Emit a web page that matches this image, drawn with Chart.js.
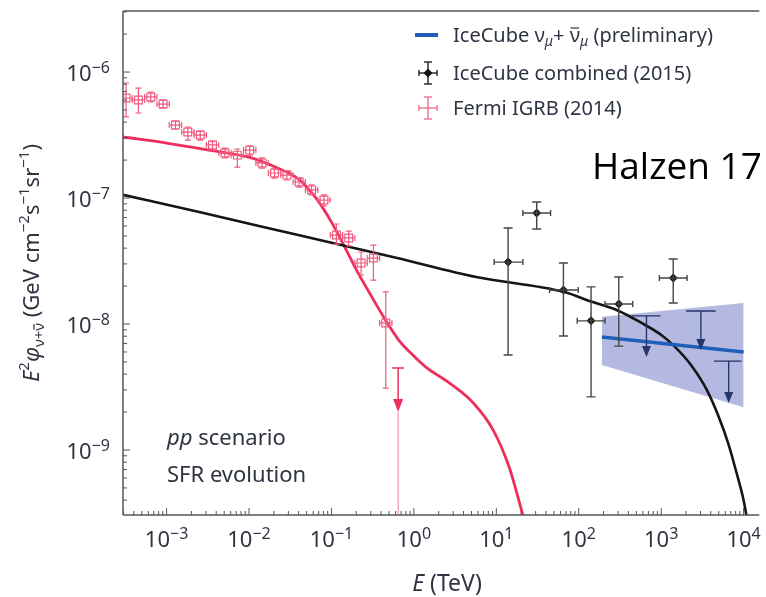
<!DOCTYPE html>
<html>
<head>
<meta charset="utf-8">
<script src="https://cdn.jsdelivr.net/npm/chart.js@4.4.0/dist/chart.umd.min.js"></script>
<style>
html, body { margin: 0; padding: 0; background: #fff; }
#wrap { width: 766px; height: 597px; position: relative; }
</style>
</head>
<body>
<div id="wrap"><canvas id="c" width="766" height="597"></canvas></div>
<script>
// energies in TeV, fluxes E^2 phi in GeV cm^-2 s^-1 sr^-1
const xTickExps = [-3, -2, -1, 0, 1, 2, 3, 4];
const yTickExps = [-9, -8, -7, -6];

// Fermi IGRB (2014)
const fermiE  = [3.22e-4, 4.55e-4, 6.43e-4, 9.08e-4, 1.28e-3, 1.81e-3, 2.56e-3, 3.61e-3, 5.1e-3, 7.21e-3, 1.02e-2, 1.44e-2, 2.04e-2, 2.88e-2, 4.06e-2, 5.74e-2, 8.11e-2, 0.115, 0.162, 0.229, 0.323, 0.456];
const fermiF  = [6.22e-7, 6.0e-7, 6.34e-7, 5.57e-7, 3.79e-7, 3.34e-7, 3.16e-7, 2.64e-7, 2.28e-7, 2.19e-7, 2.4e-7, 1.9e-7, 1.58e-7, 1.52e-7, 1.34e-7, 1.16e-7, 9.64e-8, 5.08e-8, 4.82e-8, 3.05e-8, 3.34e-8, 1.02e-8];
const fermiLo = [4.4e-7, 4.73e-7, 5.78e-7, 5.18e-7, 3.53e-7, 2.88e-7, 2.88e-7, 2.4e-7, 2.08e-7, 1.76e-7, 2.19e-7, 1.73e-7, 1.44e-7, 1.39e-7, 1.22e-7, 1.06e-7, 8.65e-8, 4.31e-8, 4.16e-8, 2.45e-8, 2.23e-8, 3.1e-9];
const fermiHi = [8.18e-7, 7.46e-7, 6.94e-7, 6.0e-7, 4.08e-7, 3.66e-7, 3.4e-7, 2.83e-7, 2.49e-7, 2.45e-7, 2.59e-7, 2.08e-7, 1.7e-7, 1.64e-7, 1.44e-7, 1.27e-7, 1.06e-7, 6.22e-8, 5.47e-8, 3.73e-8, 4.23e-8, 1.8e-8];
const fermiHalfBinDex = 0.075;
const fermiUlE = [0.644];
const fermiUlF = [4.48e-9];
const fermiUlTip = [2.0e-9];

// IceCube combined (2015)
const icE   = [13.9, 30.9, 65.2, 141, 306, 1400];
const icF   = [3.1e-8, 7.6e-8, 1.86e-8, 1.06e-8, 1.44e-8, 2.32e-8];
const icLo  = [5.67e-9, 5.68e-8, 8.04e-9, 2.64e-9, 6.68e-9, 1.47e-8];
const icHi  = [5.78e-8, 9.29e-8, 3.05e-8, 1.97e-8, 2.36e-8, 3.28e-8];
const icElo = [9.42, 21.0, 44.3, 95.9, 208, 951];
const icEhi = [21.0, 45.5, 98.6, 208, 451, 2060];
const icUlE   = [663, 3030, 6590];
const icUlF   = [1.16e-8, 1.27e-8, 5.08e-9];
const icUlTip = [5.47e-9, 6.22e-9, 2.36e-9];
const icUlElo = [438, 2005, 4355];
const icUlEhi = [977, 4590, 9440];

// IceCube nu_mu + anti-nu_mu fit and its band
const blueE  = [191, 1e4];
const blueF  = [7.88e-9, 6.0e-9];
const bandHi = [1.14e-8, 1.47e-8];
const bandLo = [4.73e-9, 2.19e-9];

// pp scenario, SFR evolution: gamma rays (red) and neutrinos (black)
const redE = [2.96e-4, 1e-3, 3.28e-3, 9.9e-3, 2.09e-2, 3.95e-2, 6.33e-2, 9.84e-2, 0.145, 0.207, 0.314, 0.475, 0.681, 1.0, 1.44, 2.71, 5.26, 9.16, 14.3, 21];
const redF = [3.05e-7, 2.73e-7, 2.4e-7, 2.11e-7, 1.76e-7, 1.42e-7, 1.02e-7, 6.56e-8, 4.08e-8, 2.59e-8, 1.61e-8, 1.02e-8, 7.2e-9, 5.57e-9, 4.48e-9, 3.4e-9, 2.36e-9, 1.44e-9, 7.33e-10, 3.05e-10];
const blackE = [2.96e-4, 2.49e-3, 3.95e-2, 0.627, 5.71, 65.2, 145, 306, 578, 1004, 1440, 2300, 3590, 5000, 6590, 8220, 1e4, 1.08e4];
const blackF = [1.06e-7, 7.74e-8, 5.08e-8, 3.34e-8, 2.36e-8, 1.8e-8, 1.5e-8, 1.27e-8, 1.02e-8, 8.18e-9, 6.68e-9, 4.73e-9, 2.99e-9, 1.83e-9, 1.1e-9, 6.57e-10, 4.0e-10, 3.05e-10];

const FF = '"Noto Sans", "DejaVu Sans", sans-serif';
const TXT = '#2e3442';
const FRAME = '#555';
const RED = '#ee2f5c';
const FERMI = '#ef5b80';
const BLUE = '#1f5fb8';
const BAND = 'rgba(125,135,205,0.58)';
const NAVY = '#26356a';
const IC_BAR = '#444';

const xy = (xs, ys) => xs.map((x, i) => ({ x: x, y: ys[i] }));
const font = (size, italic) => (italic ? 'italic ' : '') + size + 'px ' + FF;

function seg(ctx, x0, y0, x1, y1) {
    ctx.beginPath();
    ctx.moveTo(x0, y0);
    ctx.lineTo(x1, y1);
    ctx.stroke();
}

function arrow(ctx, x, yTip, w, h) {
    ctx.beginPath();
    ctx.moveTo(x - w / 2, yTip - h);
    ctx.lineTo(x + w / 2, yTip - h);
    ctx.lineTo(x, yTip);
    ctx.closePath();
    ctx.fill();
}

// draw a row of text pieces with their own font / vertical shift
function runs(ctx, parts, x, y, align) {
    let w = 0;
    parts.forEach(p => { ctx.font = p.f; w += ctx.measureText(p.t).width; });
    let cx = align === 'center' ? x - w / 2 : align === 'right' ? x - w : x;
    parts.forEach(p => {
        ctx.font = p.f;
        const pw = ctx.measureText(p.t).width;
        ctx.fillText(p.t, cx, y + (p.dy || 0));
        if (p.bar) {
            ctx.save();
            ctx.strokeStyle = ctx.fillStyle;
            ctx.lineWidth = 1.2;
            seg(ctx, cx + 1, y + (p.dy || 0) - p.bar, cx + pw - 1, y + (p.dy || 0) - p.bar);
            ctx.restore();
        }
        cx += pw;
    });
    return w;
}

function decadeTicks(scale) {
    const out = [];
    const e0 = Math.floor(Math.log10(scale.min)), e1 = Math.ceil(Math.log10(scale.max));
    for (let e = e0; e <= e1; e++) {
        for (let m = 1; m <= 9; m++) {
            const v = m * Math.pow(10, e);
            if (v >= scale.min && v <= scale.max) out.push({ v: v, major: m === 1 });
        }
    }
    return out;
}

const supTxt = e => (e < 0 ? '\u2212' + (-e) : String(e));

const overlay = {
    id: 'overlay',
    afterDraw(chart) {
        const ctx = chart.ctx;
        const a = chart.chartArea;
        const sx = chart.scales.x, sy = chart.scales.y;
        const X = v => sx.getPixelForValue(v);
        const Y = v => sy.getPixelForValue(v);

        ctx.save();
        ctx.beginPath();
        ctx.rect(a.left, a.top, a.right - a.left, a.bottom - a.top);
        ctx.clip();

        // Fermi error bars
        ctx.strokeStyle = FERMI;
        ctx.lineWidth = 1.2;
        const k = Math.pow(10, fermiHalfBinDex);
        fermiE.forEach((e, i) => {
            const x = X(e), y = Y(fermiF[i]);
            const xl = X(e / k), xr = X(e * k), yl = Y(fermiLo[i]), yh = Y(fermiHi[i]);
            seg(ctx, xl, y, xr, y);
            seg(ctx, x, yl, x, yh);
            seg(ctx, x - 3, yl, x + 3, yl);
            seg(ctx, x - 3, yh, x + 3, yh);
            seg(ctx, xl, y - 3, xl, y + 3);
            seg(ctx, xr, y - 3, xr, y + 3);
        });
        fermiUlE.forEach((e, i) => {
            const x = X(e), y = Y(fermiUlF[i]), yt = Y(fermiUlTip[i]);
            ctx.strokeStyle = '#f6a9bb';
            ctx.lineWidth = 1.5;
            seg(ctx, x, yt, x, a.bottom);
            ctx.strokeStyle = RED;
            ctx.fillStyle = RED;
            seg(ctx, x - 6, y, x + 6, y);
            seg(ctx, x, y, x, yt - 8);
            arrow(ctx, x, yt, 10, 13);
        });

        // IceCube combined error bars
        ctx.lineWidth = 1.4;
        ctx.strokeStyle = IC_BAR;
        icE.forEach((e, i) => {
            const x = X(e), y = Y(icF[i]);
            const xl = X(icElo[i]), xr = X(icEhi[i]), yl = Y(icLo[i]), yh = Y(icHi[i]);
            seg(ctx, x, yl, x, yh);
            seg(ctx, x - 4.5, yl, x + 4.5, yl);
            seg(ctx, x - 4.5, yh, x + 4.5, yh);
            seg(ctx, xl, y, xr, y);
            seg(ctx, xl, y - 3, xl, y + 3);
            seg(ctx, xr, y - 3, xr, y + 3);
        });
        ctx.strokeStyle = NAVY;
        ctx.fillStyle = NAVY;
        icUlE.forEach((e, i) => {
            const x = X(e), y = Y(icUlF[i]), yt = Y(icUlTip[i]);
            seg(ctx, X(icUlElo[i]), y, X(icUlEhi[i]), y);
            seg(ctx, x, y, x, yt - 6);
            arrow(ctx, x, yt, 9, 11);
        });
        ctx.restore();

        // frame and inward ticks
        ctx.save();
        ctx.strokeStyle = FRAME;
        ctx.lineWidth = 1.5;
        seg(ctx, a.left, a.top, a.right, a.top);
        seg(ctx, a.left, a.top, a.left, a.bottom);
        seg(ctx, a.left, a.bottom, a.right, a.bottom);
        ctx.lineWidth = 1;
        decadeTicks(sx).forEach(t => { const x = X(t.v); seg(ctx, x, a.bottom, x, a.bottom - (t.major ? 7 : 4)); });
        decadeTicks(sy).forEach(t => { const y = Y(t.v); seg(ctx, a.left, y, a.left + (t.major ? 7 : 4), y); });

        // tick labels
        ctx.fillStyle = TXT;
        ctx.textAlign = 'left';
        ctx.textBaseline = 'alphabetic';
        xTickExps.forEach(e => runs(ctx, [
            { t: '10', f: font(22) },
            { t: supTxt(e), f: font(16), dy: -8 }
        ], X(Math.pow(10, e)), a.bottom + 32, 'center'));
        yTickExps.forEach(e => runs(ctx, [
            { t: '10', f: font(22) },
            { t: supTxt(e), f: font(16), dy: -8 }
        ], a.left - 13, Y(Math.pow(10, e)) + 9, 'right'));

        // axis titles
        runs(ctx, [
            { t: 'E', f: font(23, true) },
            { t: ' (TeV)', f: font(23) }
        ], 447, 591, 'center');
        ctx.save();
        ctx.translate(39, 263);
        ctx.rotate(-Math.PI / 2);
        runs(ctx, [
            { t: 'E', f: font(22, true) },
            { t: '2', f: font(15), dy: -10 },
            { t: '\u03c6', f: font(22, true) },
            { t: '\u03bd+', f: font(15), dy: 5 },
            { t: '\u03bd', f: font(15), dy: 5, bar: 10 },
            { t: ' (GeV cm', f: font(22) },
            { t: '\u22122', f: font(15), dy: -10 },
            { t: 's', f: font(22) },
            { t: '\u22121', f: font(15), dy: -10 },
            { t: 'sr', f: font(22) },
            { t: '\u22121', f: font(15), dy: -10 },
            { t: ')', f: font(22) }
        ], 0, 0, 'center');
        ctx.restore();

        // legend
        const lx = 428, tx = 453;
        ctx.strokeStyle = BLUE;
        ctx.lineWidth = 4;
        seg(ctx, 415, 35, 438, 35);
        ctx.fillStyle = TXT;
        runs(ctx, [
            { t: 'IceCube \u03bd', f: font(20) },
            { t: '\u03bc', f: font(14, true), dy: 4 },
            { t: '+ ', f: font(20) },
            { t: '\u03bd', f: font(20), bar: 14 },
            { t: '\u03bc', f: font(14, true), dy: 4 },
            { t: ' (preliminary)', f: font(20) }
        ], tx, 42, 'left');

        ctx.strokeStyle = '#222';
        ctx.fillStyle = '#111';
        ctx.lineWidth = 1.4;
        seg(ctx, lx, 62, lx, 84);
        seg(ctx, lx - 4, 62, lx + 4, 62);
        seg(ctx, lx - 4, 84, lx + 4, 84);
        seg(ctx, lx - 9, 73, lx + 9, 73);
        seg(ctx, lx - 9, 70, lx - 9, 76);
        seg(ctx, lx + 9, 70, lx + 9, 76);
        ctx.beginPath();
        ctx.moveTo(lx, 68.5); ctx.lineTo(lx + 4.5, 73); ctx.lineTo(lx, 77.5); ctx.lineTo(lx - 4.5, 73);
        ctx.closePath();
        ctx.fill();
        ctx.fillStyle = TXT;
        runs(ctx, [{ t: 'IceCube combined (2015)', f: font(20) }], tx, 80, 'left');

        ctx.strokeStyle = FERMI;
        ctx.lineWidth = 1.2;
        seg(ctx, lx, 97, lx, 119);
        seg(ctx, lx - 4, 97, lx + 4, 97);
        seg(ctx, lx - 4, 119, lx + 4, 119);
        seg(ctx, lx - 9, 108, lx + 9, 108);
        seg(ctx, lx - 9, 105, lx - 9, 111);
        seg(ctx, lx + 9, 105, lx + 9, 111);
        runs(ctx, [{ t: 'Fermi IGRB (2014)', f: font(20) }], tx, 115, 'left');

        // annotations
        runs(ctx, [{ t: 'pp', f: font(22, true) }, { t: ' scenario', f: font(22) }], 167, 445, 'left');
        runs(ctx, [{ t: 'SFR evolution', f: font(22) }], 167, 482, 'left');

        ctx.fillStyle = '#000';
        runs(ctx, [{ t: 'Halzen 17', f: '37px "Open Sans", "Noto Sans", sans-serif' }], 592, 179, 'left');
        ctx.restore();
    }
};

new Chart(document.getElementById('c'), {
    type: 'scatter',
    data: {
        datasets: [
            { data: xy(blueE, bandHi), showLine: true, pointRadius: 0, borderWidth: 0, backgroundColor: BAND, fill: '+1', order: 10 },
            { data: xy(blueE, bandLo), showLine: true, pointRadius: 0, borderWidth: 0, fill: false, order: 10 },
            { data: xy(redE, redF), showLine: true, pointRadius: 0, borderColor: RED, borderWidth: 2.8, cubicInterpolationMode: 'monotone', order: 6 },
            { data: xy(blackE, blackF), showLine: true, pointRadius: 0, borderColor: '#151515', borderWidth: 2.6, cubicInterpolationMode: 'monotone', order: 5 },
            { data: xy(blueE, blueF), showLine: true, pointRadius: 0, borderColor: BLUE, borderWidth: 3.5, order: 4 },
            { data: xy(fermiE, fermiF), pointStyle: 'rect', pointRadius: 5.5, borderWidth: 1.2, borderColor: FERMI, backgroundColor: 'rgba(0,0,0,0)', order: 3 },
            { data: xy(icE, icF), pointStyle: 'rectRot', pointRadius: 4.5, borderWidth: 0, backgroundColor: '#111', order: 2 }
        ]
    },
    options: {
        responsive: false,
        animation: false,
        events: [],
        layout: { padding: { top: 11, right: 0, bottom: 0, left: 0 } },
        plugins: { legend: { display: false }, tooltip: { enabled: false } },
        scales: {
            x: {
                type: 'logarithmic', min: 2.96e-4, max: 1.55e4,
                ticks: { display: false }, grid: { display: false }, border: { display: false },
                afterFit: s => { s.height = 82; }
            },
            y: {
                type: 'logarithmic', min: 3.05e-10, max: 3.05e-6,
                ticks: { display: false }, grid: { display: false }, border: { display: false },
                afterFit: s => { s.width = 123; }
            }
        }
    },
    plugins: [overlay]
});
</script>
</body>
</html>
